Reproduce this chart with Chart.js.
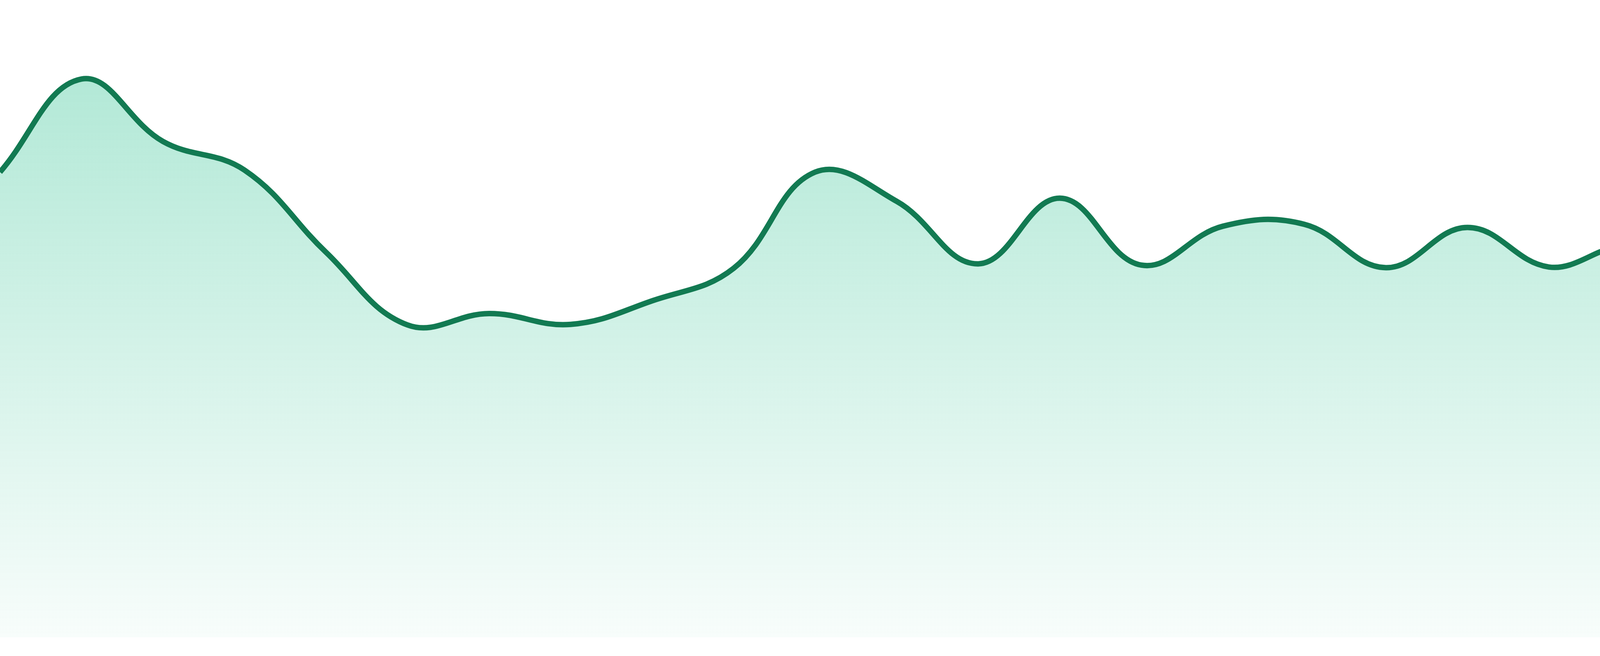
<!DOCTYPE html>
<html lang="en">
<head>
    <meta charset="UTF-8">
    <title>Area trend</title>
    <script src="https://cdn.jsdelivr.net/npm/chart.js@4"></script>
    <style>
        * {
            margin: 0;
            padding: 0;
            box-sizing: border-box;
        }

        html, body {
            background: #ffffff;
            overflow: hidden;
        }

        .chart-wrap {
            position: relative;
            width: 4800px;
            height: 1680px;
        }
    </style>
</head>
<body>
    <div class="chart-wrap">
        <canvas id="trendChart"></canvas>
    </div>

    <script>
        // Data (y axis 0-100, axes hidden)
        const labels = ['1', '2', '3', '4', '5', '6', '7', '8', '9', '10', '11', '12',
                        '13', '14', '15', '16', '17', '18', '19', '20', '21', '22', '23', '24'];
        const values = [73.0, 87.6, 77.8, 73.3, 60.4, 49.0, 50.8, 49.1, 52.8, 57.9, 73.0, 68.4,
                        58.6, 68.9, 58.4, 64.5, 64.8, 58.0, 64.3, 58.1, 60.7, 45.5, 50.7, 45.6];
        const yMin = 0;
        const yMax = 100;

        const lineColor = '#127a52';

        // Area gradient, strong at the top, almost white at the baseline
        function areaFill(context) {
            const area = context.chart.chartArea;
            if (!area) return 'rgba(16, 185, 129, 0.2)';
            const g = context.chart.ctx.createLinearGradient(0, area.top, 0, area.bottom);
            g.addColorStop(0, 'rgba(16, 185, 129, 0.36)');
            g.addColorStop(1, 'rgba(16, 185, 129, 0.03)');
            return g;
        }

        const ctx = document.getElementById('trendChart').getContext('2d');
        new Chart(ctx, {
            type: 'line',
            data: {
                labels: labels,
                datasets: [{
                    data: values,
                    borderColor: lineColor,
                    borderWidth: 14,
                    backgroundColor: areaFill,
                    fill: 'origin',
                    tension: 0.4,
                    pointRadius: 0,
                    pointHoverRadius: 0
                }]
            },
            options: {
                responsive: true,
                maintainAspectRatio: false,
                animation: false,
                devicePixelRatio: 1,
                layout: {
                    padding: { top: 0, right: 0, bottom: 48, left: 0 }
                },
                plugins: {
                    legend: { display: false },
                    tooltip: { enabled: false }
                },
                scales: {
                    x: {
                        display: false,
                        offset: false
                    },
                    y: {
                        display: false,
                        min: yMin,
                        max: yMax
                    }
                }
            }
        });
    </script>
</body>
</html>
